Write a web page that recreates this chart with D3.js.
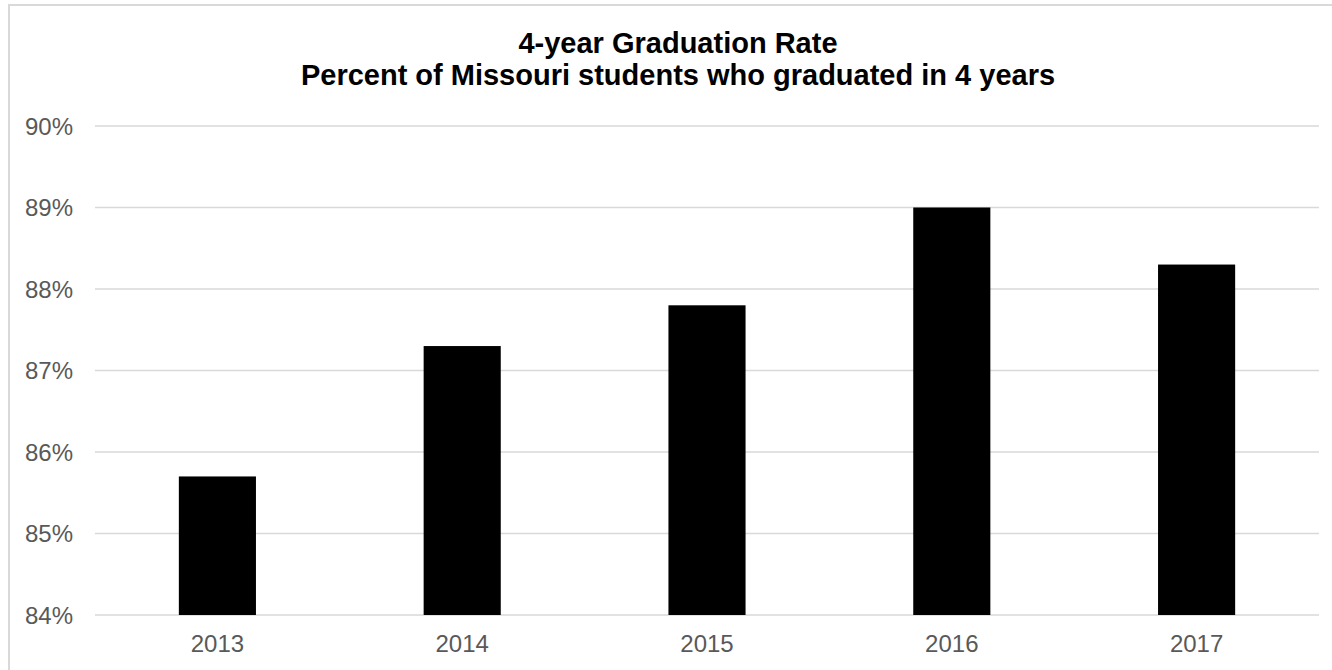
<!DOCTYPE html>
<html>
<head>
<meta charset="utf-8">
<script src="https://cdn.jsdelivr.net/npm/d3@7"></script>
<style>
  html, body { margin: 0; padding: 0; background: #fff; overflow: hidden; }
  svg { display: block; }
</style>
</head>
<body>
<svg id="chart" width="1332" height="670"></svg>
<script>
const categories = ["2013", "2014", "2015", "2016", "2017"];
const values = [85.7, 87.3, 87.8, 89.0, 88.3];
const yTicks = [84, 85, 86, 87, 88, 89, 90];
const titleLines = ["4-year Graduation Rate", "Percent of Missouri students who graduated in 4 years"];

const svg = d3.select("#chart");
const W = 1332, H = 670;
const font = "'Liberation Sans', Arial, sans-serif";

// outer chart border (extends past right/bottom of viewport)
svg.append("rect")
  .attr("x", 9).attr("y", 5)
  .attr("width", W + 20).attr("height", H + 20)
  .attr("fill", "#fff")
  .attr("stroke", "#d9d9d9").attr("stroke-width", 2);

const plot = { left: 95, right: 1319, top: 126, bottom: 615 };

const x = d3.scaleBand()
  .domain(categories)
  .range([plot.left, plot.right])
  .paddingInner(0.685)
  .paddingOuter(0.3425);

const y = d3.scaleLinear()
  .domain([84, 90])
  .range([plot.bottom, plot.top]);

// gridlines
svg.append("g")
  .selectAll("line")
  .data(yTicks)
  .join("line")
  .attr("x1", plot.left).attr("x2", plot.right)
  .attr("y1", d => y(d)).attr("y2", d => y(d))
  .attr("stroke", "#d9d9d9").attr("stroke-width", 1.5);

// y axis labels
const yAxis = d3.axisLeft(y).tickValues(yTicks).tickFormat(d => d + "%").tickSize(0).tickPadding(0);
const gy = svg.append("g").attr("transform", `translate(73,0)`).call(yAxis);
gy.select(".domain").remove();
gy.selectAll("text")
  .attr("fill", "#595959")
  .style("font-family", font)
  .style("font-size", "24px")
  .attr("dy", "0.35em");

// bars
svg.append("g")
  .selectAll("rect")
  .data(values)
  .join("rect")
  .attr("x", (d, i) => x(categories[i]))
  .attr("width", x.bandwidth())
  .attr("y", d => y(d))
  .attr("height", d => y(84) - y(d))
  .attr("fill", "#000");

// x axis labels
const xAxis = d3.axisBottom(x).tickSize(0).tickPadding(0);
const gx = svg.append("g").attr("transform", `translate(0,${plot.bottom})`).call(xAxis);
gx.select(".domain").remove();
gx.selectAll("text")
  .attr("fill", "#595959")
  .style("font-family", font)
  .style("font-size", "24px")
  .attr("y", 37)
  .attr("dy", 0);

// title
svg.append("g")
  .selectAll("text")
  .data(titleLines)
  .join("text")
  .attr("x", 678)
  .attr("y", (d, i) => i === 0 ? 52.5 : 85)
  .attr("text-anchor", "middle")
  .attr("fill", "#000")
  .style("font-family", font)
  .style("font-size", "29px")
  .style("font-weight", "bold")
  .text(d => d);
</script>
</body>
</html>
